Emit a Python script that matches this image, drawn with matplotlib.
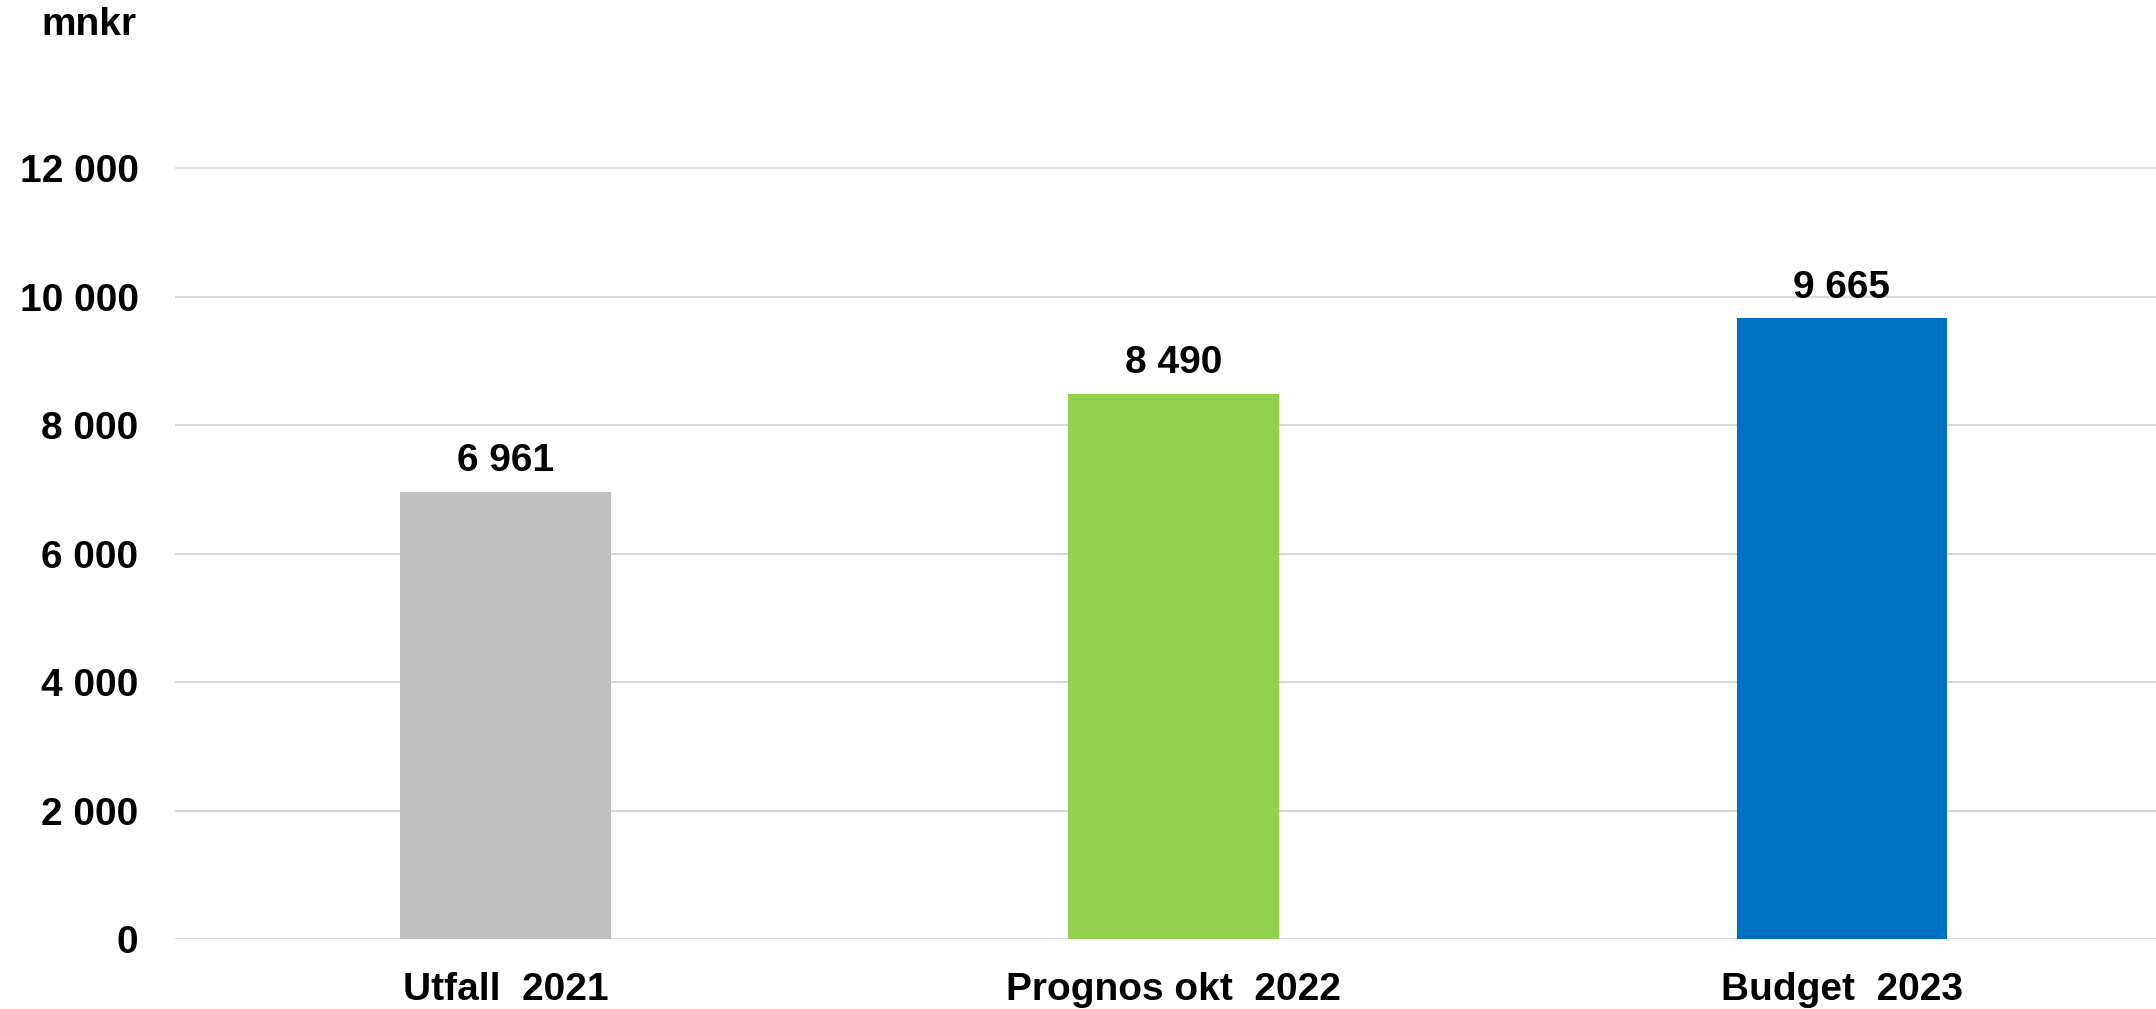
import numpy as np
import matplotlib.pyplot as plt

plt.rcParams['font.family'] = ['Liberation Sans', 'DejaVu Sans']
plt.rcParams['font.weight'] = 'bold'

categories = ['Utfall  2021', 'Prognos okt  2022', 'Budget  2023']
values = [6961, 8490, 9665]
colors = ['#BFBFBF', '#92D050', '#0070C0']
yticks = [0, 2000, 4000, 6000, 8000, 10000, 12000]

def fmt(v):
    return '{:,}'.format(v).replace(',', ' ')

fig = plt.figure(figsize=(21.56, 10.09), dpi=100)
ax = fig.add_axes([0.081, 0.0694, 0.919, 0.891])

x = np.arange(len(categories))
ax.bar(x, values, width=0.315, color=colors, zorder=2)
for xi, v in zip(x, values):
    ax.annotate(fmt(v), (xi, v), xytext=(0, 9), textcoords='offset points',
                ha='center', va='bottom', fontsize=28, fontweight='bold')

ax.set_xlim(-0.495, 2.47)
ax.set_ylim(0, 14000)
ax.set_yticks(yticks)
ax.set_yticklabels([fmt(t) for t in yticks], fontsize=28, fontweight='bold')
ax.set_xticks(x)
ax.set_xticklabels(categories, fontsize=28, fontweight='bold')
ax.tick_params(axis='both', length=0)
ax.tick_params(axis='y', pad=26)
ax.tick_params(axis='x', pad=24)
ax.grid(axis='y', color='#D9D9D9', linewidth=1.5, zorder=0)
ax.set_axisbelow(True)
for s in ax.spines.values():
    s.set_visible(False)

fig.text(0.019, 0.975, 'mnkr', fontsize=28, fontweight='bold', ha='left', va='center')

fig.savefig('out.png', dpi=100)
